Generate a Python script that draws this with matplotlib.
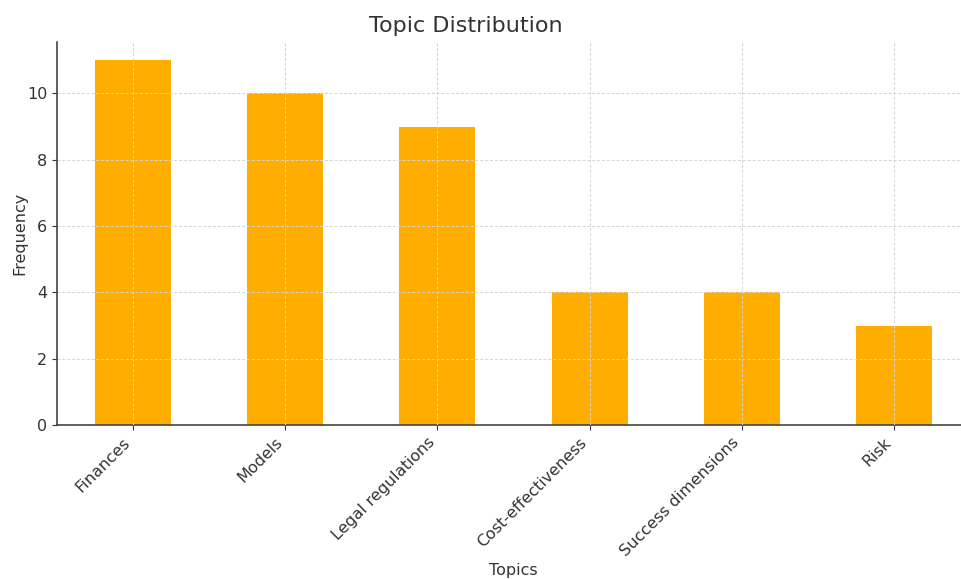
import matplotlib
matplotlib.use("Agg")
import matplotlib.pyplot as plt

topics = ["Finances", "Models", "Legal regulations", "Cost-effectiveness",
          "Success dimensions", "Risk"]
frequency = [11, 10, 9, 4, 4, 3]

plt.rcParams["font.family"] = "DejaVu Sans"
plt.rcParams["text.color"] = "#333333"
plt.rcParams["axes.labelcolor"] = "#333333"
plt.rcParams["xtick.color"] = "#333333"
plt.rcParams["ytick.color"] = "#333333"

fig = plt.figure(figsize=(9.61, 5.79), dpi=100)
ax = fig.add_axes([57 / 961, 1 - 425 / 579, 913 / 961, 383 / 579])

x = range(len(topics))
ax.bar(x, frequency, width=0.5, color="#FFAE00", zorder=1)

ax.set_xlim(-0.5, len(topics) - 0.5)
ax.set_ylim(0, 11.55)
ax.set_xticks(list(x))
ax.set_xticklabels(topics, rotation=45, ha="right", fontsize=11.5)
ax.set_yticks([0, 2, 4, 6, 8, 10])
ax.tick_params(axis="y", labelsize=11.5)

ax.grid(True, linestyle=(0, (3, 2)), color="#d4d4d4", linewidth=0.7, zorder=3)
ax.set_axisbelow(False)

for side in ("top", "right"):
    ax.spines[side].set_visible(False)
for side in ("left", "bottom"):
    ax.spines[side].set_color("#444444")
    ax.spines[side].set_linewidth(1.2)

# title sits left of the axes centre in the reference
ax.set_title("Topic Distribution", fontsize=16, x=(466 - 57) / 913, pad=7)
ax.set_xlabel("Topics", fontsize=11.5, labelpad=3)
ax.set_ylabel("Frequency", fontsize=11.5, labelpad=0)

fig.savefig("out.png", dpi=100)
